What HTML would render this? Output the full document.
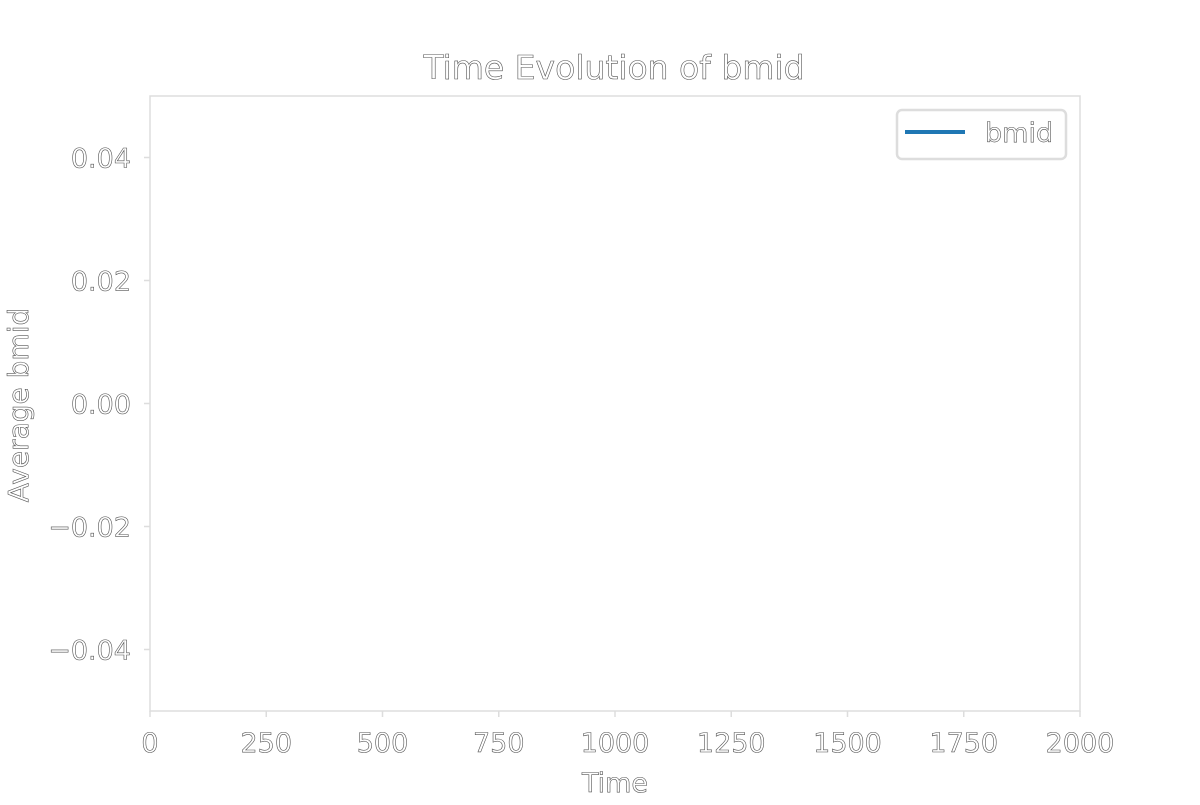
<!DOCTYPE html>
<html><head><meta charset="utf-8"><style>
body{margin:0;background:#fff}
text{font-family:"DejaVu Sans","Liberation Sans",sans-serif;fill:#fff;stroke:#555;stroke-width:0.6}
</style></head><body>
<svg id="chart" width="1200" height="800" xmlns="http://www.w3.org/2000/svg">
<rect width="1200" height="800" fill="#fff"/>
<g id="plot"></g>
</svg>
<script>
const xTicks=[0,250,500,750,1000,1250,1500,1750,2000];
const yTicks=[0.04,0.02,0.00,-0.02,-0.04];
const yTickLabels=["0.04","0.02","0.00","\u22120.02","\u22120.04"];
const seriesName="bmid";
const seriesX=[];
const seriesY=[];
const L=150,R=1080,T=96,B=711;
const x=v=>L+(v-0)/2000*(R-L);
const y=v=>B-(v+0.05)/0.1*(B-T);
const svg=document.getElementById('chart');
const NS="http://www.w3.org/2000/svg";
function mk(tag,attrs,parent){const e=document.createElementNS(NS,tag);for(const k in attrs)e.setAttribute(k,attrs[k]);(parent||svg).appendChild(e);return e;}
const frame=mk('rect',{x:L,y:T,width:R-L,height:B-T,fill:'none',stroke:'#ddd','stroke-width':1.5});


xTicks.forEach(v=>{
  const t=mk('line',{x1:x(v),x2:x(v),y1:B,y2:B+6,stroke:'#ddd','stroke-width':1.5});
  
  
  const l=mk('text',{x:x(v),y:B+41,'text-anchor':'middle','font-size':27});
  l.textContent=v;
  
  
});
yTicks.forEach((v,i)=>{
  const t=mk('line',{x1:L-6,x2:L,y1:y(v),y2:y(v),stroke:'#ddd','stroke-width':1.5});
  
  
  const l=mk('text',{x:L-19,y:y(v)+10,'text-anchor':'end','font-size':27});
  l.textContent=yTickLabels[i];
  
  
});
if(seriesX.length){
  const p=mk('polyline',{points:seriesX.map((v,i)=>x(v)+','+y(seriesY[i])).join(' '),fill:'none',stroke:'#1f77b4','stroke-width':3});
  
  
}
const title=mk('text',{x:614,y:79,'text-anchor':'middle','font-size':33});
title.textContent="Time Evolution of bmid";


const xl=mk('text',{x:615,y:792,'text-anchor':'middle','font-size':27});
xl.textContent="Time";


const yl=mk('text',{x:0,y:0,'text-anchor':'middle','font-size':28,transform:'translate(28,405) rotate(-90)'});
yl.textContent="Average bmid";


const lg=mk('g',{});


mk('rect',{x:897,y:110,width:169,height:49,rx:5,fill:'#fff',stroke:'#ddd','stroke-width':2.5},lg);
const ll=mk('line',{x1:905,x2:965,y1:132,y2:132,stroke:'#1f77b4','stroke-width':4},lg);


const lt=mk('text',{x:985,y:142,'font-size':27},lg);
lt.textContent=seriesName;


</script>
</body></html>
